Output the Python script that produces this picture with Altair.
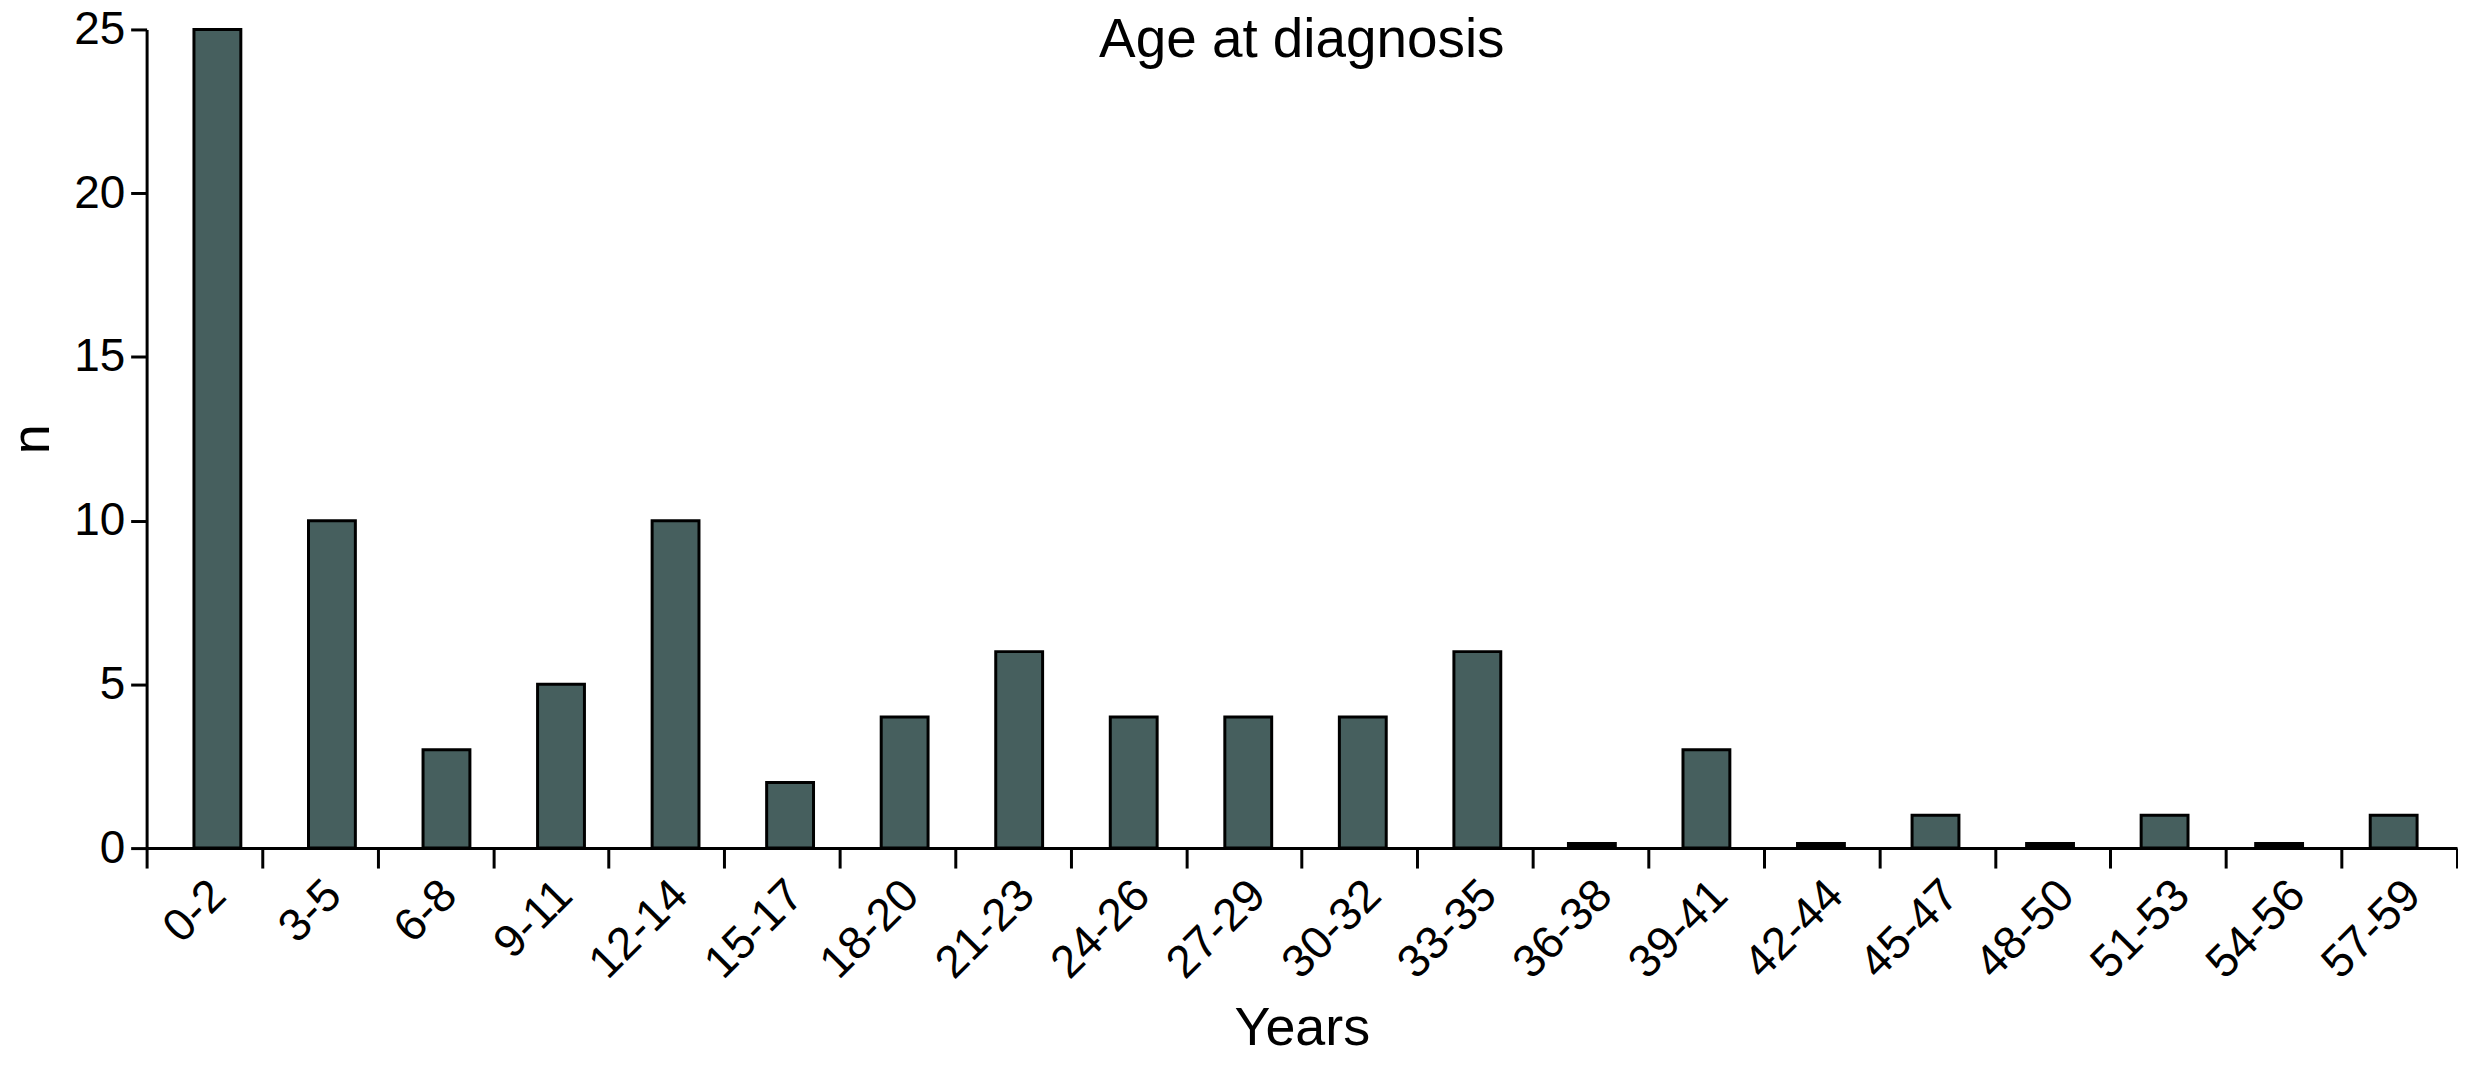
import altair as alt
import pandas as pd

categories = ["0-2", "3-5", "6-8", "9-11", "12-14", "15-17", "18-20", "21-23",
              "24-26", "27-29", "30-32", "33-35", "36-38", "39-41", "42-44",
              "45-47", "48-50", "51-53", "54-56", "57-59"]
counts = [25, 10, 3, 5, 10, 2, 4, 6, 4, 4, 4, 6, 0, 3, 0, 1, 0, 1, 0, 1]
y_ticks = [0, 5, 10, 15, 20, 25]
chart_title = "Age at diagnosis"
x_title = "Years"
y_title = "n"

df = pd.DataFrame({"age": categories, "n": counts})

W, H = 2317, 821
FONT = "Liberation Sans"
BAR_FILL = "#465f5e"

y_enc = alt.Y("n:Q", scale=alt.Scale(domain=[0, 25], nice=False),
              axis=alt.Axis(title=y_title, values=y_ticks, tickSize=16,
                            labelPadding=6, labelFontSize=46, titleFontSize=54,
                            titleAngle=270, titleX=-114, titleY=H / 2,
                            titleBaseline="middle", titleAlign="center"))

# axis layer: ticks at band extents, labels at band centres
axis_layer = alt.Chart(df).mark_bar(opacity=0).encode(
    x=alt.X("age:N", sort=categories,
            scale=alt.Scale(domain=categories, paddingInner=0, paddingOuter=0),
            axis=alt.Axis(title=x_title, tickBand="extent", labelAngle=315,
                          tickSize=20, labelPadding=4, labelOffset=-2,
                          labelFontSize=46, titleFontSize=54,
                          titleY=197, titleBaseline="alphabetic")),
    y=y_enc,
)

bar_scale = alt.Scale(domain=categories, paddingInner=0, paddingOuter=0.0855, align=0.69)

bars = alt.Chart(df).mark_bar(
    width=47, color=BAR_FILL, stroke="black", strokeWidth=3
).encode(
    x=alt.X("age:N", sort=categories, scale=bar_scale, axis=None),
    y=y_enc,
)

zero_bars = alt.Chart(df).transform_filter("datum.n == 0").mark_bar(
    width=50, color="black"
).encode(
    x=alt.X("age:N", sort=categories, scale=bar_scale, axis=None),
    y=alt.value(H),
    y2=alt.value(H - 6),
)

chart = alt.layer(axis_layer, bars, zero_bars).resolve_scale(
    x="independent"
).properties(
    width=W, height=H,
    title=alt.TitleParams(chart_title, fontSize=55, font=FONT, fontWeight="normal",
                          anchor="middle", color="black", offset=0, dy=63),
    padding={"left": 139, "top": 20, "right": 1, "bottom": 209},
    autosize=alt.AutoSizeParams(type="none"),
).configure_axis(
    grid=False, domainColor="black", domainWidth=3, tickColor="black",
    tickWidth=3, labelColor="black", titleColor="black", labelFont=FONT,
    titleFont=FONT, titleFontWeight="normal",
).configure_view(stroke=None)

chart.save("out.html", embed_options={"renderer": "svg", "actions": False})
